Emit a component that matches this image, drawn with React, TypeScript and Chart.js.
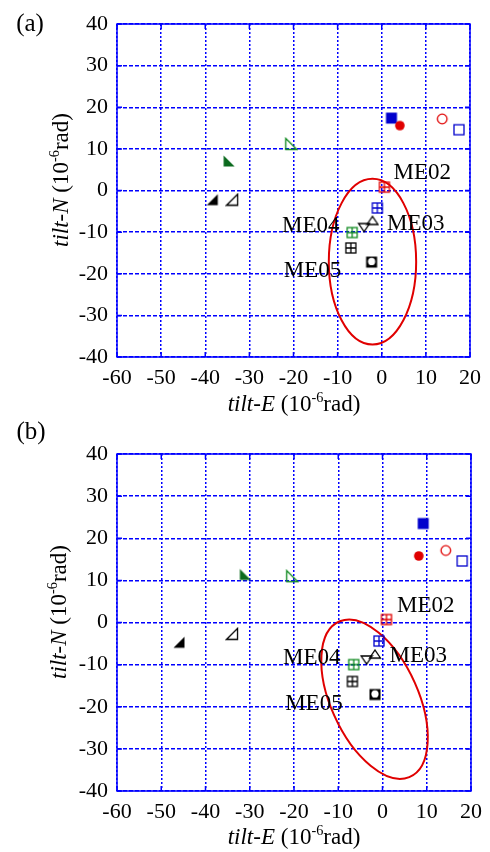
import React, { useEffect, useRef } from 'react';
import { Chart, registerables } from 'chart.js';

Chart.register(...registerables);

// ---------- data ----------
const xTickValues = [-60, -50, -40, -30, -20, -10, 0, 10, 20];
const yTickValues = [-40, -30, -20, -10, 0, 10, 20, 30, 40];

// marker glyph kinds and colours (same set of stations in both panels)
const markerKinds = [
  'filledSquare', 'filledCircle', 'openCircle', 'openSquare',
  'openRightBL', 'filledRightBL', 'filledRightBR', 'openRightBR',
  'gridSquare', 'gridSquare', 'openTriUp', 'openTriDown',
  'gridSquare', 'gridSquare', 'ringSquare',
];
const markerColors = [
  '#0000cc', '#e00000', '#e00000', '#0000cc',
  '#108a20', '#0b6a1e', '#000000', '#000000',
  '#e00000', '#0000cc', '#000000', '#000000',
  '#108a20', '#000000', '#000000',
];

// panel (a)
const panelAX = [2.2, 4.1, 13.7, 17.5, -20.5, -34.6, -38.4, -33.9, 0.6, -1.0, -2.1, -4.0, -6.7, -7.0, -2.3];
const panelAY = [17.4, 15.6, 17.2, 14.6, 11.2, 7.1, -2.2, -2.2, 0.8, -4.2, -7.2, -8.9, -10.1, -13.8, -17.2];

// panel (b)
const panelBX = [9.2, 8.2, 14.3, 18.0, -20.4, -31.0, -46.0, -34.0, 0.9, -0.8, -1.7, -3.6, -6.5, -6.8, -1.7];
const panelBY = [23.5, 15.8, 17.1, 14.6, 11.0, 11.4, -4.7, -2.7, 0.7, -4.4, -7.5, -8.9, -10.0, -14.0, -17.1];

// station labels
const stationNames = ['ME02', 'ME03', 'ME04', 'ME05'];
const labelAX = [9.2, 7.7, -16.1, -15.7];
const labelAY = [4.2, -8.0, -8.5, -19.4];
const labelBX = [9.8, 8.1, -16.0, -15.5];
const labelBY = [4.0, -7.9, -8.3, -19.4];

// error ellipses: [panel a, panel b]
const ellipseCenterX = [-2.1, -1.8];
const ellipseCenterY = [-17.1, -18.2];
const ellipseRadiusX = [9.9, 9.9];
const ellipseRadiusY = [19.9, 20.1];
const ellipseAngleDeg = [0, 23];

// ---------- styles ----------
const SERIF = '"Liberation Serif", "Times New Roman", serif';
const GRID_BLUE = '#0000ff';

function makeMarker(kind: string, color: string): HTMLCanvasElement {
  const s = 14;
  const c = document.createElement('canvas');
  c.width = s;
  c.height = s;
  const g = c.getContext('2d') as CanvasRenderingContext2D;
  g.strokeStyle = color;
  g.fillStyle = color;
  g.lineWidth = 1.3;
  const m = s / 2;
  g.beginPath();
  switch (kind) {
    case 'filledSquare':
      g.fillRect(1.5, 1.5, 11, 11);
      break;
    case 'openSquare':
      g.strokeRect(2, 2, 10, 10);
      break;
    case 'filledCircle':
      g.arc(m, m, 4.8, 0, Math.PI * 2);
      g.fill();
      break;
    case 'openCircle':
      g.arc(m, m, 4.8, 0, Math.PI * 2);
      g.stroke();
      break;
    case 'gridSquare':
      g.strokeRect(2, 2, 10, 10);
      g.moveTo(m, 2);
      g.lineTo(m, 12);
      g.moveTo(2, m);
      g.lineTo(12, m);
      g.stroke();
      break;
    case 'openTriUp':
      g.moveTo(1.5, 11);
      g.lineTo(12.5, 11);
      g.lineTo(m, 3);
      g.closePath();
      g.stroke();
      break;
    case 'openTriDown':
      g.moveTo(1.5, 3);
      g.lineTo(12.5, 3);
      g.lineTo(m, 11);
      g.closePath();
      g.stroke();
      break;
    case 'openRightBL':
    case 'filledRightBL':
      g.moveTo(1.5, 1.5);
      g.lineTo(1.5, 12.5);
      g.lineTo(12.5, 12.5);
      g.closePath();
      if (kind === 'filledRightBL') g.fill();
      else g.stroke();
      break;
    case 'openRightBR':
    case 'filledRightBR':
      g.moveTo(12.5, 1.5);
      g.lineTo(12.5, 12.5);
      g.lineTo(1.5, 12.5);
      g.closePath();
      if (kind === 'filledRightBR') g.fill();
      else g.stroke();
      break;
    case 'ringSquare':
      g.fillRect(1.5, 1.5, 11, 11);
      g.fillStyle = '#ffffff';
      g.beginPath();
      g.arc(m, m - 0.6, 3.6, 0, Math.PI * 2);
      g.fill();
      break;
    default:
      break;
  }
  return c;
}

interface PanelSpec {
  xs: number[];
  ys: number[];
  labelX: number[];
  labelY: number[];
  ellipseIndex: number;
  padTop: number;
  padRight: number;
  yAxisWidth: number;
  xAxisHeight: number;
}

function buildChart(canvas: HTMLCanvasElement, spec: PanelSpec): Chart {
  const images = markerKinds.map((k, i) => makeMarker(k, markerColors[i]));
  const points = spec.xs.map((x, i) => ({ x, y: spec.ys[i] }));

  const overlay = {
    id: 'overlay',
    beforeDatasetsDraw(chart: any) {
      const { ctx, scales } = chart;
      const xs = scales.x;
      const ys = scales.y;
      const e = spec.ellipseIndex;
      const cx = xs.getPixelForValue(ellipseCenterX[e]);
      const cy = ys.getPixelForValue(ellipseCenterY[e]);
      const sx = xs.getPixelForValue(1) - xs.getPixelForValue(0);
      const sy = ys.getPixelForValue(0) - ys.getPixelForValue(1);
      ctx.save();
      ctx.beginPath();
      ctx.translate(cx, cy);
      ctx.scale(sx, -sy);
      ctx.ellipse(0, 0, ellipseRadiusX[e], ellipseRadiusY[e], (ellipseAngleDeg[e] * Math.PI) / 180, 0, Math.PI * 2);
      ctx.restore();
      ctx.save();
      ctx.strokeStyle = '#e00000';
      ctx.lineWidth = 2;
      ctx.stroke();
      ctx.restore();
    },
    afterDatasetsDraw(chart: any) {
      const { ctx, scales, chartArea } = chart;
      const xs = scales.x;
      const ys = scales.y;
      ctx.save();
      ctx.fillStyle = '#000';
      ctx.font = `23px ${SERIF}`;
      ctx.textAlign = 'center';
      ctx.textBaseline = 'middle';
      stationNames.forEach((name, i) => {
        ctx.fillText(name, xs.getPixelForValue(spec.labelX[i]), ys.getPixelForValue(spec.labelY[i]));
      });
      ctx.restore();

      // frame and inward ticks
      ctx.save();
      ctx.strokeStyle = GRID_BLUE;
      ctx.lineWidth = 1.5;
      ctx.strokeRect(chartArea.left, chartArea.top, chartArea.right - chartArea.left, chartArea.bottom - chartArea.top);
      ctx.beginPath();
      const t = 5;
      xTickValues.forEach((v) => {
        const px = xs.getPixelForValue(v);
        ctx.moveTo(px, chartArea.bottom);
        ctx.lineTo(px, chartArea.bottom - t);
        ctx.moveTo(px, chartArea.top);
        ctx.lineTo(px, chartArea.top + t);
      });
      yTickValues.forEach((v) => {
        const py = ys.getPixelForValue(v);
        ctx.moveTo(chartArea.left, py);
        ctx.lineTo(chartArea.left + t, py);
        ctx.moveTo(chartArea.right, py);
        ctx.lineTo(chartArea.right - t, py);
      });
      ctx.stroke();
      ctx.restore();
    },
  };

  return new Chart(canvas, {
    type: 'scatter',
    data: {
      datasets: [
        {
          data: points,
          pointStyle: images as any,
          pointRadius: 7,
          showLine: false,
        },
      ],
    },
    options: {
      animation: false,
      responsive: false,
      devicePixelRatio: 1,
      events: [],
      layout: { padding: { left: 0, right: spec.padRight, top: spec.padTop, bottom: 0 } },
      plugins: { legend: { display: false }, tooltip: { enabled: false }, title: { display: false } },
      scales: {
        x: {
          type: 'linear',
          min: -60,
          max: 20,
          afterBuildTicks: (scale: any) => {
            scale.ticks = xTickValues.map((v) => ({ value: v }));
          },
          afterFit: (scale: any) => {
            scale.height = spec.xAxisHeight;
          },
          ticks: {
            color: '#000',
            font: { family: SERIF, size: 22 },
            padding: 8,
            maxRotation: 0,
            autoSkip: false,
          },
          grid: { color: GRID_BLUE, lineWidth: 1.5, drawTicks: false },
          border: { display: false, dash: [2, 2] },
        },
        y: {
          type: 'linear',
          min: -40,
          max: 40,
          afterBuildTicks: (scale: any) => {
            scale.ticks = yTickValues.map((v) => ({ value: v }));
          },
          afterFit: (scale: any) => {
            scale.width = spec.yAxisWidth;
          },
          ticks: {
            color: '#000',
            font: { family: SERIF, size: 22 },
            padding: 9,
            autoSkip: false,
          },
          grid: { color: GRID_BLUE, lineWidth: 1.5, drawTicks: false },
          border: { display: false, dash: [4, 2] },
        },
      },
    },
    plugins: [overlay],
  } as any);
}

function Sup({ children }: { children: React.ReactNode }) {
  return (
    <span style={{ fontSize: '0.62em', position: 'relative', top: '-0.6em' }}>{children}</span>
  );
}

function XTitle({ cx, cy }: { cx: number; cy: number }) {
  return (
    <div
      style={{
        position: 'absolute',
        left: cx,
        top: cy,
        transform: 'translate(-50%, -50%)',
        whiteSpace: 'nowrap',
        lineHeight: 1,
        fontSize: 23,
      }}
    >
      <i>tilt-E</i> (10<Sup>-6</Sup>rad)
    </div>
  );
}

function YTitle({ cx, cy }: { cx: number; cy: number }) {
  return (
    <div
      style={{
        position: 'absolute',
        left: cx,
        top: cy,
        transform: 'translate(-50%, -50%) rotate(-90deg)',
        whiteSpace: 'nowrap',
        lineHeight: 1,
        fontSize: 23,
      }}
    >
      <i>tilt-N</i> (10<Sup>-6</Sup>rad)
    </div>
  );
}

function PanelLabel({ cx, cy, text }: { cx: number; cy: number; text: string }) {
  return (
    <div
      style={{
        position: 'absolute',
        left: cx,
        top: cy,
        transform: 'translate(-50%, -50%)',
        whiteSpace: 'nowrap',
        lineHeight: 1,
        fontSize: 25,
      }}
    >
      {text}
    </div>
  );
}

export default function App() {
  const refA = useRef<HTMLCanvasElement>(null);
  const refB = useRef<HTMLCanvasElement>(null);

  useEffect(() => {
    const a = buildChart(refA.current as HTMLCanvasElement, {
      xs: panelAX,
      ys: panelAY,
      labelX: labelAX,
      labelY: labelAY,
      ellipseIndex: 0,
      padTop: 24,
      padRight: 20,
      yAxisWidth: 117,
      xAxisHeight: 426 - 357,
    });
    const b = buildChart(refB.current as HTMLCanvasElement, {
      xs: panelBX,
      ys: panelBY,
      labelX: labelBX,
      labelY: labelBY,
      ellipseIndex: 1,
      padTop: 28,
      padRight: 19,
      yAxisWidth: 117,
      xAxisHeight: 426 - 365,
    });
    return () => {
      a.destroy();
      b.destroy();
    };
  }, []);

  return (
    <div
      style={{
        position: 'absolute',
        left: 0,
        top: 0,
        width: 490,
        height: 852,
        background: '#fff',
        fontFamily: SERIF,
        color: '#000',
        overflow: 'hidden',
      }}
    >
      <canvas ref={refA} width={490} height={426} style={{ position: 'absolute', left: 0, top: 0, width: 490, height: 426 }} />
      <canvas ref={refB} width={490} height={426} style={{ position: 'absolute', left: 0, top: 426, width: 490, height: 426 }} />
      <PanelLabel cx={30} cy={22} text="(a)" />
      <PanelLabel cx={31} cy={430} text="(b)" />
      <YTitle cx={60} cy={180} />
      <YTitle cx={58} cy={612} />
      <XTitle cx={294} cy={403} />
      <XTitle cx={294} cy={836} />
    </div>
  );
}
